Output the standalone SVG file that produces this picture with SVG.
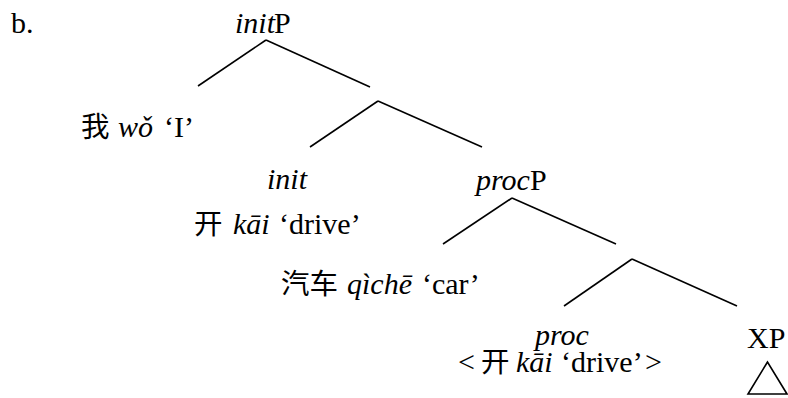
<svg xmlns="http://www.w3.org/2000/svg" width="788" height="398" viewBox="0 0 788 398">
<style>
text{font-family:"Liberation Serif","Noto Sans CJK SC",serif;font-size:30px;fill:#000}
.i{font-family:"Liberation Serif",serif;font-style:italic}
.c{font-size:28.5px}
.e{stroke:#000;stroke-width:1.6;fill:none;stroke-linecap:butt}
</style>
<rect width="788" height="398" fill="#fff"/>
<text x="11" y="33">b.</text>
<g id="initP">
<text class="i" x="235" y="33">init</text>
<text x="274" y="33">P</text>
</g>
<g id="wo">
<text class="c" x="81" y="137">我</text>
<text class="i" x="118" y="137">wǒ</text>
<text x="164" y="137">‘I’</text>
</g>
<g id="init">
<text class="i" x="267" y="189">init</text>
<text class="c" x="194" y="234">开</text>
<text class="i" x="233" y="234">kāi</text>
<text x="279" y="234">‘drive’</text>
</g>
<g id="procP">
<text class="i" x="476" y="190">proc</text>
<text x="530" y="190">P</text>
</g>
<g id="qiche">
<text class="c" x="281" y="294">汽车</text>
<text class="i" x="347" y="294">qìchē</text>
<text x="422" y="294">‘car’</text>
</g>
<g id="proc">
<text class="i" x="535" y="345">proc</text>
<text x="458" y="372">&lt;</text>
<text class="c" x="481" y="372">开</text>
<text class="i" x="516" y="372">kāi</text>
<text x="561" y="372">‘drive’</text>
<text x="645" y="372">&gt;</text>
</g>
<g id="XP">
<text x="747" y="348">XP</text>
<polygon class="e" points="767.5,362 748,394 787,394"/>
</g>
<g id="edges">
<line class="e" x1="266" y1="40" x2="198" y2="86"/>
<line class="e" x1="266" y1="40" x2="370" y2="87"/>
<line class="e" x1="378" y1="101" x2="310" y2="147"/>
<line class="e" x1="378" y1="101" x2="482" y2="147"/>
<line class="e" x1="512" y1="198" x2="443" y2="244"/>
<line class="e" x1="512" y1="198" x2="616" y2="244"/>
<line class="e" x1="632" y1="259" x2="564" y2="306"/>
<line class="e" x1="632" y1="259" x2="737" y2="306"/>
</g>
</svg>
